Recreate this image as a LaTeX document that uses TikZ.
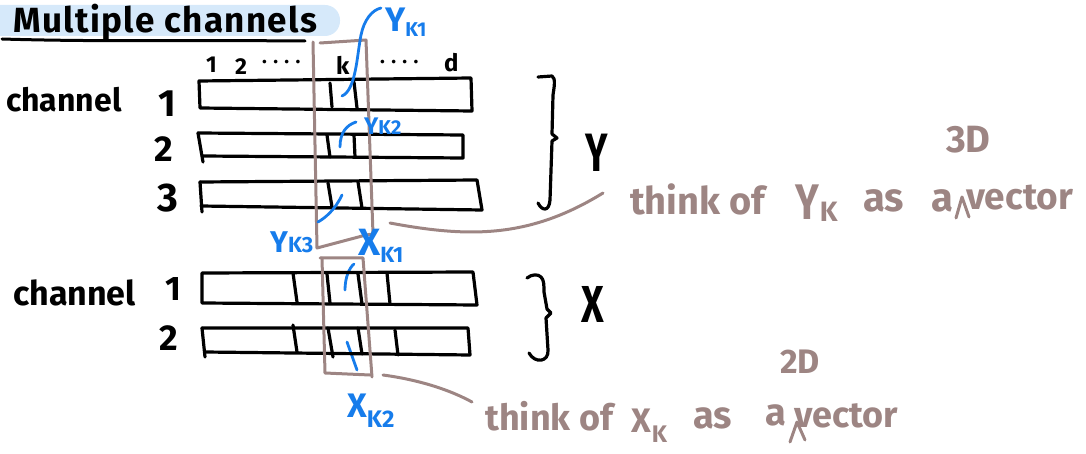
\documentclass[tikz,border=0pt]{standalone}
\usepackage{fontspec}
\setmainfont{Fira Sans}
\definecolor{hl}{RGB}{214,233,250}
\definecolor{gry}{RGB}{157,133,131}
\definecolor{blu}{RGB}{22,124,235}
\newcommand{\fs}[1]{\fontsize{#1}{#1}\selectfont\bfseries}
\newcommand{\lowsub}[3]{\raisebox{#1}{\fs{#2}#3}}
\tikzset{
 txt/.style={inner sep=0pt, anchor=base west},
 blk/.style={draw=black, line width=3.2pt, line cap=round, line join=round},
 gline/.style={draw=gry, line width=3pt, line cap=round, line join=round},
 bline/.style={draw=blu, line width=2.8pt, line cap=round, line join=round},
 btxt/.style={txt, text=blu},
 gtxt/.style={txt, text=gry},
}
\begin{document}
\begin{tikzpicture}[x=1pt,y=-1pt]
\useasboundingbox (0,0) rectangle (1086,454);
% title
\fill[hl, rounded corners=15pt] (-30,5) rectangle (340,36);
\node[txt, font=\fs{35}] (title) at (13,33) {\addfontfeatures{LetterSpace=4}Multiple channels};
\draw[blk, line width=3pt] (2,39) .. controls (100,42) and (200,40) .. (305,41);
% index labels
\node[txt, font=\fs{23}] (i1) at (206,73) {1};
\node[txt, font=\fs{23}] (i2) at (235,75) {2};
\node[txt, font=\fs{20}] (d1) at (262,64) {. . . .};
\node[txt, font=\fs{24}] (ik) at (336,75) {k};
\node[txt, font=\fs{20}] (d2) at (380,64) {. . . .};
\node[txt, font=\fs{24}] (id) at (444,72) {d};
% channel labels Y
\node[txt, font=\fs{32}] (chY) at (6,112) {channel};
\node[txt, font=\fs{38}] (y1) at (158,117) {1};
\node[txt, font=\fs{36}] (y2) at (154,162) {2};
\node[txt, font=\fs{40}] (y3) at (157,212) {3};
% Y bars
\draw[blk] (199,81) -- (471,78) -- (472,111) -- (200,108) -- cycle;
\draw[blk] (330,83) -- (332,107);
\draw[blk] (354,82) -- (357,108);
\draw[blk] (198,133) -- (463,135) -- (463,158) -- (203,156);
\draw[blk] (198,133) -- (203,162);
\draw[blk] (327,135) -- (330,157);
\draw[blk] (354,135) -- (355,157);
\draw[blk] (200,182) -- (477,180) -- (482,210) -- (201,206);
\draw[blk] (200,182) -- (202,212);
\draw[blk] (328,183) -- (332,207);
\draw[blk] (358,182) -- (362,208);
% Y box
\draw[gline] (313,42) -- (317,248) -- (366,235) -- (373,234) -- (366,40) -- (320,43);
% braces
\draw[blk] (538,77) -- (552,76) .. controls (556,78) and (554,88) .. (553,95) -- (552,134) -- (557,138) -- (552,141) -- (550,200) .. controls (549,212) and (542,211) .. (538,203);
\node[txt, font=\fs{54}] (Ylab) at (585,172) {\scalebox{0.7}[1]{Y}};
% connectors Y
\coordinate (ybA) at (390,223);
\coordinate (ybB) at (603,193);
\draw[gline] (ybA) .. controls (470,238) and (530,238) .. (ybB);
% text Y
\node[gtxt, font=\fs{38}] (thY) at (630,215) {think of};
\node[gtxt, font=\fs{50}] (YK) at (795,220) {\scalebox{0.8}[1]{Y}\kern1pt\lowsub{-2pt}{28}{K}};
\node[gtxt, font=\fs{40}] (asY) at (863,212) {as};
\node[gtxt, font=\fs{40}] (aY) at (931,212) {a};
\draw[gline] (956,218) -- (962,197) -- (969,217);
\node[gtxt, font=\fs{37}] (vY) at (966,210) {vector};
\node[gtxt, font=\fs{38}] (dY) at (946,153) {3D};
% blue Y labels
\draw[bline] (342,96) .. controls (356,90) and (357,55) .. (361,35) .. controls (364,20) and (372,10) .. (381,8);
\node[btxt, font=\fs{34}] (yk1) at (385,32) {Y\lowsub{-5pt}{20}{K1}};
\draw[bline] (340,147) .. controls (340,132) and (347,125) .. (356,122);
\node[btxt, font=\fs{24}] (yk2) at (364,135) {Y\lowsub{0pt}{20}{K2}};
\draw[bline] (342,195) .. controls (335,210) and (325,218) .. (318,222);
\node[btxt, font=\fs{30}] (yk3) at (270,252) {Y\lowsub{0pt}{22}{K3}};
\draw[bline] (345,290) .. controls (345,278) and (349,268) .. (354,264);
\node[btxt, font=\fs{38}] (xk1) at (358,255) {X\lowsub{-7pt}{22}{K1}};
\draw[bline] (347,342) -- (357,370);
\node[btxt, font=\fs{34}] (xk2) at (347,417) {X\lowsub{-10pt}{24}{K2}};
% X channel labels
\node[txt, font=\fs{34}] (chX) at (13,305) {channel};
\node[txt, font=\fs{34}] (x1) at (165,300) {1};
\node[txt, font=\fs{36}] (x2) at (159,350) {2};
% X bars
\draw[blk] (202,273) -- (473,272) -- (477,305) -- (202,303) -- cycle;
\draw[blk] (293,273) -- (297,302);
\draw[blk] (327,274) -- (330,303);
\draw[blk] (358,274) -- (362,304);
\draw[blk] (387,273) -- (390,304);
\draw[blk] (202,328) -- (468,328) -- (470,355) -- (205,352);
\draw[blk] (202,328) -- (205,357);
\draw[blk] (293,325) -- (297,352);
\draw[blk] (328,328) -- (333,357);
\draw[blk] (358,328) -- (362,354);
\draw[blk] (395,330) -- (398,355);
% X box
\draw[gline] (320,258) -- (363,258) -- (372,377);
\draw[gline] (322,258) -- (325,373) -- (370,375);
% X brace
\draw[blk] (527,278) .. controls (532,274) and (538,274) .. (541,277) .. controls (544,280) and (544,285) .. (544,292) -- (547,309) -- (551,313) -- (546,318) -- (548,350) .. controls (549,362) and (535,364) .. (529,353);
\node[txt, font=\fs{52}] (Xlab) at (581,322) {\scalebox{0.75}[1]{X}};
% connectors X
\coordinate (xbA) at (383,375);
\coordinate (xbB) at (472,402);
\draw[gline] (xbA) .. controls (420,380) and (450,390) .. (xbB);
% text X
\node[gtxt, font=\fs{36}] (thX) at (485,430) {think of};
\node[gtxt, font=\fs{34}] (XK) at (631,432) {X\kern1pt\lowsub{-10pt}{24}{K}};
\node[gtxt, font=\fs{38}] (asX) at (693,428) {as};
\node[gtxt, font=\fs{38}] (aX) at (765,425) {a};
\draw[gline] (790,442) -- (797,422) -- (805,440);
\node[gtxt, font=\fs{36}] (vX) at (794,427) {vector};
\node[gtxt, font=\fs{34}] (dX) at (780,373) {2D};
\end{tikzpicture}
\end{document}
